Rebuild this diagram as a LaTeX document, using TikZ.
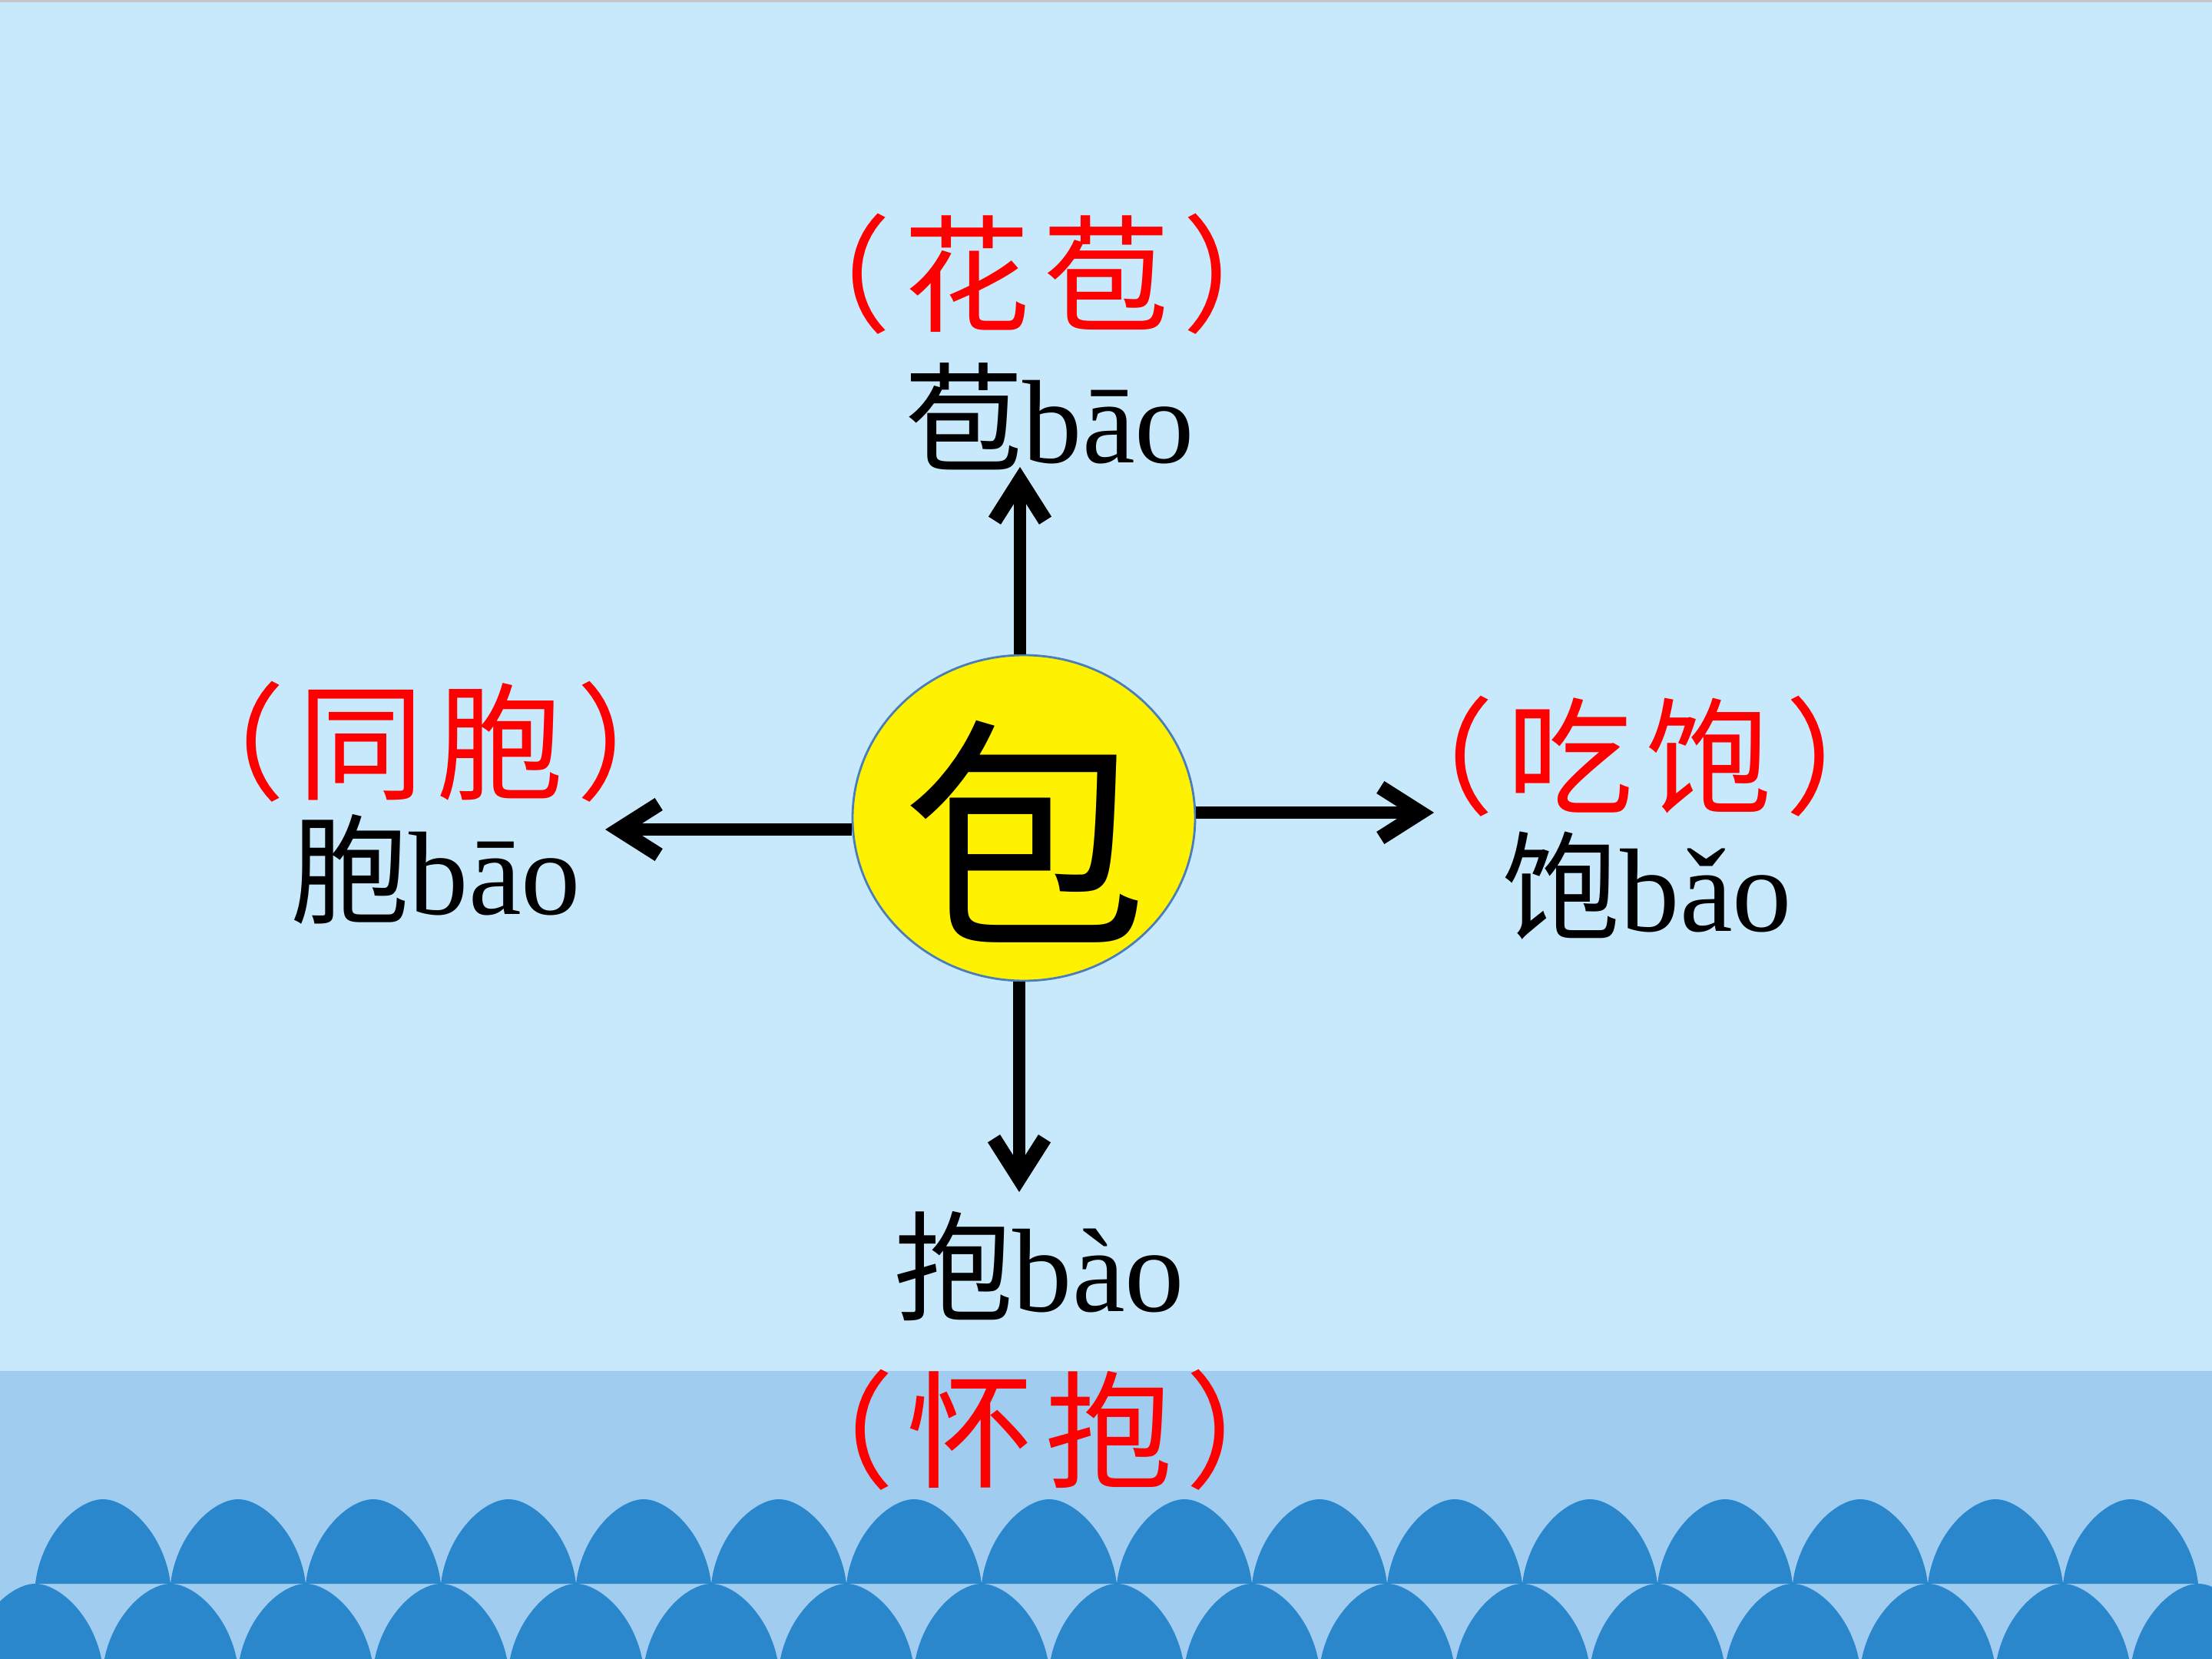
\documentclass[tikz,border=0pt]{standalone}
\usepackage{fontspec}
\setmainfont{Liberation Serif}
\newfontfamily\cjk{Noto Sans CJK SC}
\newfontfamily\cjkhalf[RawFeature=+halt]{Noto Sans CJK SC}
\usetikzlibrary{shapes.geometric,arrows.meta}
\definecolor{skyblue}{HTML}{C7E9FB}
\definecolor{bandblue}{HTML}{9FCCEF}
\definecolor{waveblue}{HTML}{2A87CB}
\definecolor{rimblue}{HTML}{4A7EBB}
\newcommand{\gap}{\hspace{0.16cm}}
\tikzset{
  word/.style={inner sep=0pt, anchor=base, font=\fontsize{44}{48}\selectfont},
  answer/.style={inner sep=0pt, text=red, font=\cjkhalf\fontsize{47}{50}\selectfont},
  arr/.style={line width=0.16cm, -{Straight Barb[length=0.52cm, width=0.66cm, line width=0.19cm 0, line join=miter, line cap=butt]}},
  dome/.style={fill=waveblue},
}
\begin{document}
\begin{tikzpicture}
    % Sky and sea band
    \useasboundingbox (0,0) rectangle (28.8,-21.6);
    \fill[skyblue] (0,0) rectangle (28.8,-21.6);
    \fill[gray!45] (0,0) rectangle (28.8,-0.03);
    \fill[bandblue] (0,-17.85) rectangle (28.8,-21.6);
    \begin{scope}
        \clip (0,-17.85) rectangle (28.8,-21.6);
        % Waves: upper row, then lower row
        \foreach \x in {0,...,15}
            \path[dome] ({0.46+1.76*\x},-20.62) .. controls +(0.08,0.66) and +(-0.32,0) .. ++(0.88,1.1)
                .. controls +(0.32,0) and +(-0.08,0.66) .. ++(0.88,-1.1) -- cycle;
        \foreach \x in {0,...,16}
            \path[dome] ({-0.42+1.76*\x},-21.72) .. controls +(0.08,0.66) and +(-0.32,0) .. ++(0.88,1.1)
                .. controls +(0.32,0) and +(-0.08,0.66) .. ++(0.88,-1.1) -- cycle;
    \end{scope}
    % Centre character
    \node[ellipse, draw=rimblue, line width=0.8pt, fill=yellow, minimum width=4.46cm, minimum height=4.24cm, inner sep=0pt] (bao) at (13.33,-10.65) {};
    \node[inner sep=0pt, font=\cjk\fontsize{91}{96}\selectfont] (baochar) at (13.34,-10.83) {包};
    % Words and answers
    \node[word] (upword) at (13.66,-6.03) {{\cjk 苞}bāo};
    \node[answer] (upans) at (13.50,-3.57) {（\gap 花\gap 苞\gap ）};
    \node[word] (leftword) at (5.67,-11.90) {{\cjk 胞}bāo};
    \node[answer] (leftans) at (5.61,-9.66) {（\gap 同\gap 胞\gap ）};
    \node[word] (rightword) at (21.44,-12.12) {{\cjk 饱}bǎo};
    \node[answer] (rightans) at (21.35,-9.85) {（\gap 吃\gap 饱\gap ）};
    \node[word] (downword) at (13.53,-17.07) {{\cjk 抱}bào};
    \node[answer] (downans) at (13.54,-18.62) {（\gap 怀\gap 抱\gap ）};
    % Arrows
    \coordinate (uptip) at (13.28,-6.08);
    \coordinate (lefttip) at (7.88,-10.80);
    \coordinate (righttip) at (18.67,-10.58);
    \coordinate (downtip) at (13.27,-15.52);
    \draw[arr] (uptip |- bao.north) -- (uptip);
    \draw[arr] (bao.west |- lefttip) -- (lefttip);
    \draw[arr] (bao.east |- righttip) -- (righttip);
    \draw[arr] (downtip |- bao.south) -- (downtip);
\end{tikzpicture}
\end{document}
